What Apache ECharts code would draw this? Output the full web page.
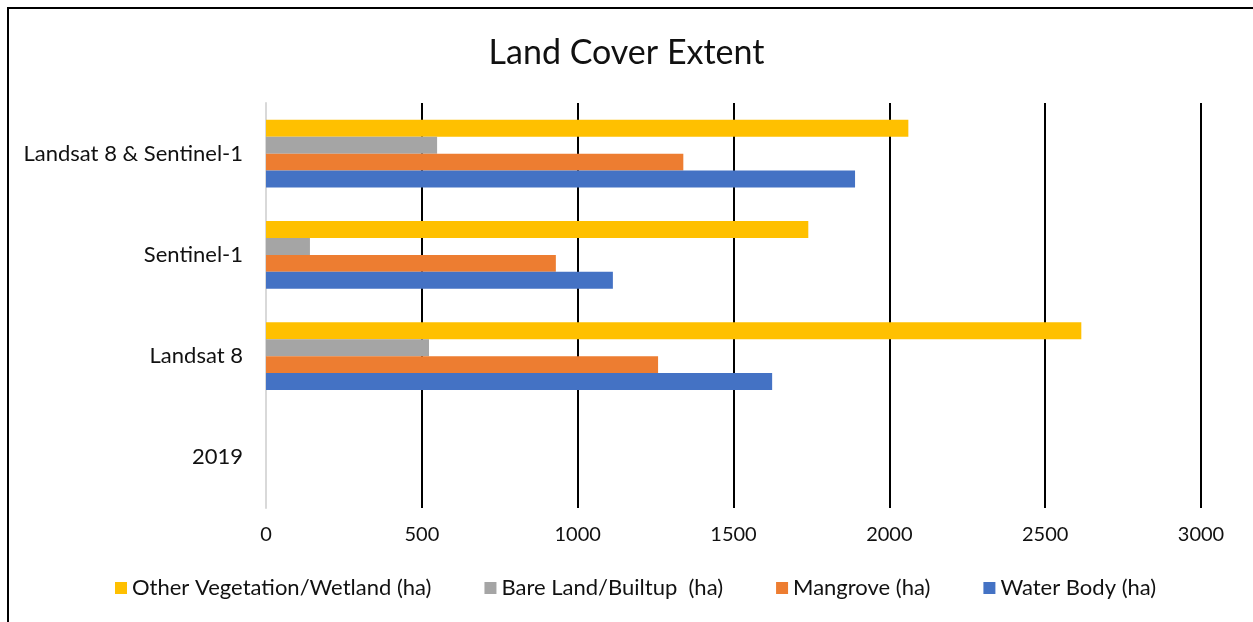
<!DOCTYPE html>
<html>
<head>
<meta charset="utf-8">
<script src="https://cdn.jsdelivr.net/npm/echarts@6/dist/echarts.min.js"></script>
<style>
  html, body { margin: 0; padding: 0; background: #fff; overflow: hidden; }
  #frame {
    position: absolute; left: 7px; top: 7px;
    width: 1270px; height: 640px;
    border: 2px solid #000;
  }
  #chart { position: absolute; left: 0; top: 0; width: 1253px; height: 622px; }
</style>
</head>
<body>
<div id="frame"></div>
<div id="chart"></div>
<script>
// categories bottom to top
const categories = ['2019', 'Landsat 8', 'Sentinel-1', 'Landsat 8 & Sentinel-1']
const waterBody = [null, 1624, 1113, 1890]
const mangrove = [null, 1258, 930, 1339]
const bareLand = [null, 523, 141, 549]
const otherVeg = [null, 2616, 1740, 2061]
const legendNames = ['Other Vegetation/Wetland (ha)', 'Bare Land/Builtup  (ha)', 'Mangrove (ha)', 'Water Body (ha)']

const font = 'Lato, "Open Sans", sans-serif'
const myChart = echarts.init(document.getElementById('chart'))

const option = {
  animation: false,
  title: {
    text: 'Land Cover Extent',
    left: 'center',
    top: 31,
    textStyle: { fontFamily: font, fontSize: 34, fontWeight: 'normal', color: '#111' }
  },
  legend: {
    data: legendNames,
    left: 110,
    top: 572,
    icon: 'rect',
    itemWidth: 12,
    itemHeight: 12,
    itemGap: 53,
    textStyle: { fontFamily: font, fontSize: 22, color: '#111' }
  },
  grid: { left: 266, right: 52, top: 103, bottom: 114 },
  xAxis: {
    type: 'value',
    min: 0,
    max: 3000,
    interval: 500,
    axisLine: { show: false },
    axisTick: { show: false },
    axisLabel: { margin: 17, fontFamily: font, fontSize: 20, color: '#111', formatter: (v) => String(v) },
    splitLine: {
      show: true,
      lineStyle: { width: 2, color: ['#d9d9d9', '#000', '#000', '#000', '#000', '#000', '#000'] }
    }
  },
  yAxis: {
    type: 'category',
    data: categories,
    axisLine: { show: true, lineStyle: { color: '#d9d9d9', width: 2 } },
    axisTick: { show: false },
    axisLabel: { margin: 23, fontFamily: font, fontSize: 22, color: '#111' }
  },
  // first series sits on top of each band
  series: [
    { name: legendNames[0], type: 'bar', data: otherVeg, itemStyle: { color: '#ffc000' }, barGap: '0%', barCategoryGap: '33%' },
    { name: legendNames[1], type: 'bar', data: bareLand, itemStyle: { color: '#a5a5a5' } },
    { name: legendNames[2], type: 'bar', data: mangrove, itemStyle: { color: '#ed7d31' } },
    { name: legendNames[3], type: 'bar', data: waterBody, itemStyle: { color: '#4472c4' } }
  ]
}

myChart.setOption(option)
</script>
</body>
</html>
